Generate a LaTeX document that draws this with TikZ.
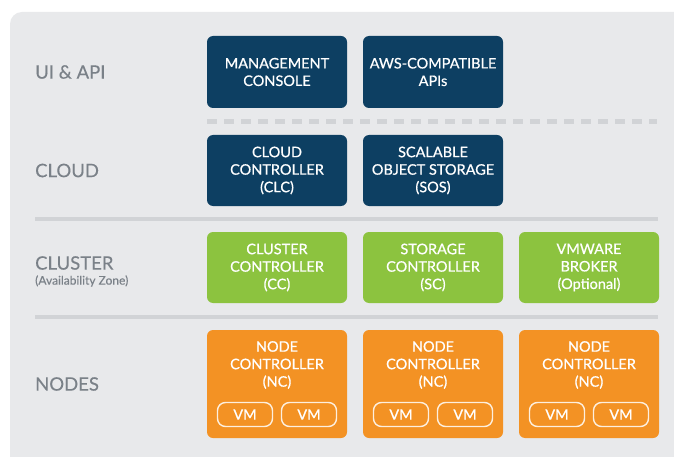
\documentclass[tikz,border=0pt]{standalone}
\usepackage{fontspec}
\setmainfont{Lato}
\newfontfamily\boxfont{Lato}[FakeBold=0.7]
\newfontfamily\tierfont{Lato}[FakeBold=0.3]
\definecolor{panel}{HTML}{E8E9EB}
\definecolor{rule}{HTML}{D1D3D6}
\definecolor{labelgray}{HTML}{7A8188}
\definecolor{navy}{HTML}{0D3F62}
\definecolor{leaf}{HTML}{8CC33F}
\definecolor{amber}{HTML}{F39224}
\begin{document}
\begin{tikzpicture}[x=1pt,y=-1pt,
  tier/.style={anchor=west,text=labelgray,font=\tierfont\fontsize{18.5}{20}\selectfont,inner sep=0pt},
  tiernote/.style={anchor=west,text=labelgray,font=\tierfont\fontsize{12}{14}\selectfont,inner sep=0pt},
  box/.style={rounded corners=6pt,minimum width=140pt,inner sep=0pt,text=white,align=center,
    font=\boxfont\fontsize{14.5}{17.5}\selectfont},
  uibox/.style={box,fill=navy,minimum height=72pt},
  cloudbox/.style={box,fill=navy,minimum height=71pt},
  clusterbox/.style={box,fill=leaf,minimum height=71pt},
  nodebox/.style={box,fill=amber,minimum height=108pt},
  boxtext/.style={text=white,align=center,inner sep=0pt,font=\boxfont\fontsize{14.5}{17.5}\selectfont},
  vm/.style={draw=white!85!amber,line width=1.4pt,rounded corners=8pt,minimum width=55pt,
    minimum height=24pt,inner sep=0pt,text=white,font=\boxfont\fontsize{14.5}{16}\selectfont},
  solidrule/.style={draw=rule,line width=4pt},
  dashrule/.style={draw=rule,line width=5pt,dash pattern=on 10pt off 7pt}
]
\useasboundingbox (0,0) rectangle (674,457);
\clip (0,0) rectangle (674,457);
\fill[white] (0,0) rectangle (674,457);
% background panel
\fill[panel,rounded corners=12pt] (10,12) rectangle (700,480);

% tier labels
\node[tier] (lui) at (35,72) {UI \& API};
\node[tier] (lcloud) at (35,170.5) {CLOUD};
\node[tier] (lcluster) at (35,263) {CLUSTER};
\node[tiernote] (laz) at (35,281) {(Availability Zone)};
\node[tier] (lnodes) at (35,384) {NODES};

% separators
\coordinate (d1) at (207,122);
\coordinate (d2) at (657,122);
\draw[dashrule] (d1) -- (d2);
\coordinate (s1a) at (35,219);
\coordinate (s1b) at (658,219);
\draw[solidrule] (s1a) -- (s1b);
\coordinate (s2a) at (35,317);
\coordinate (s2b) at (658,317);
\draw[solidrule] (s2a) -- (s2b);

% UI & API
\node[uibox] (mc) at (277,72) {MANAGEMENT\\CONSOLE};
\node[uibox] (aws) at (433,72) {AWS-COMPATIBLE\\APIs};

% cloud
\node[cloudbox] (clc) at (277,170.5) {CLOUD\\CONTROLLER\\(CLC)};
\node[cloudbox] (sos) at (433,170.5) {SCALABLE\\OBJECT STORAGE\\(SOS)};

% cluster
\node[clusterbox] (cc) at (277,267.5) {CLUSTER\\CONTROLLER\\(CC)};
\node[clusterbox] (sc) at (433,267.5) {STORAGE\\CONTROLLER\\(SC)};
\node[clusterbox] (vb) at (589,267.5) {VMWARE\\BROKER\\(Optional)};

% nodes
\foreach \cx/\nm in {277/a,433/b,589/c}{
  \node[nodebox] (nc\nm) at (\cx,384) {};
  \node[boxtext] (nct\nm) at (\cx,365) {NODE\\CONTROLLER\\(NC)};
  \node[vm] (vm\nm1) at (\cx-32,414.5) {VM};
  \node[vm] (vm\nm2) at (\cx+32,414.5) {VM};
}
\end{tikzpicture}
\end{document}
